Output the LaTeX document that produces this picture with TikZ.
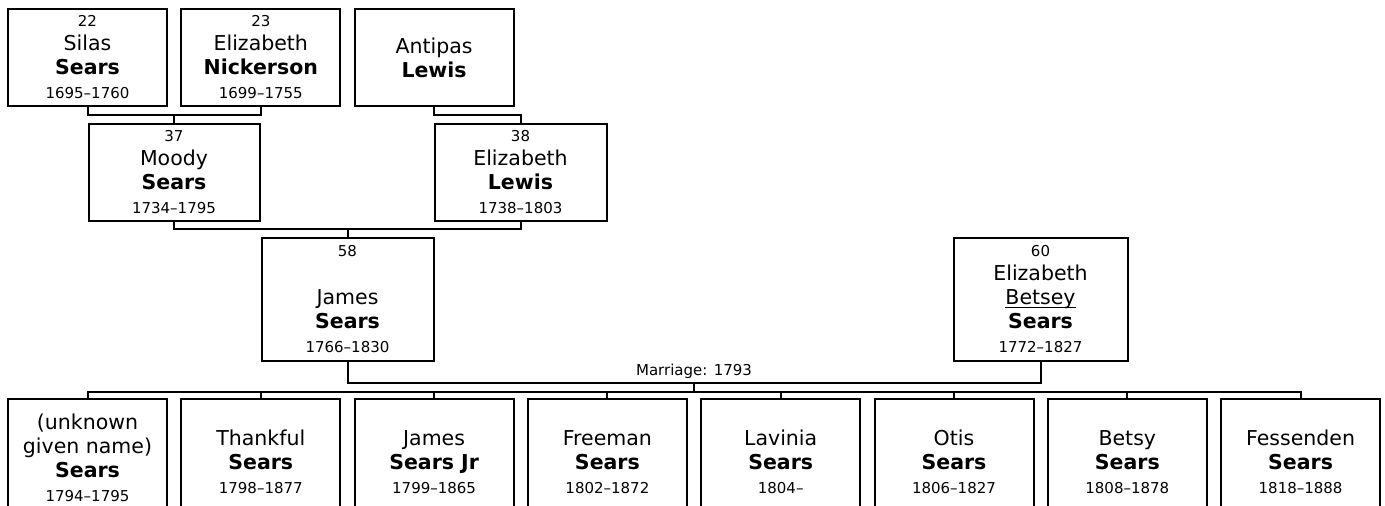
\documentclass[tikz,border=0pt]{standalone}
\usepackage{fontspec}
\setmainfont{DejaVu Sans}
\usetikzlibrary{positioning}
\newcommand{\sm}[1]{{\fontsize{15}{18}\selectfont #1}}
\newcommand{\uln}[1]{\setbox0\hbox{#1}\rlap{\rule[-3.5pt]{\wd0}{1.5pt}}\box0}

\begin{document}
\begin{tikzpicture}[
  x=1pt, y=-1pt,
  font=\fontsize{20.5}{24}\selectfont,
  node distance=12.3pt,
  person/.style={
    draw, line width=2pt, align=center, inner sep=0pt,
    minimum width=159pt, minimum height=97pt
  },
  couple/.style={person, minimum height=123pt},
  kid/.style={person, minimum height=118pt},
  link/.style={line width=2pt},
  tag/.style={font=\fontsize{15}{18}\selectfont, inner sep=3pt}
]
\useasboundingbox (0,0) rectangle (1385,506);

% Grandparents
\node[person] (silas) at (87.5,57.5)
  {\sm{22}\\Silas\\\textbf{Sears}\\\sm{1695--1760}};
\node[person, right=of silas] (nick)
  {\sm{23}\\Elizabeth\\\textbf{Nickerson}\\\sm{1699--1755}};
\node[person, right=of nick] (antipas)
  {Antipas\\\textbf{Lewis}};

% Parents
\node[person, minimum width=171pt] (moody) at (174,172.5)
  {\sm{37}\\Moody\\\textbf{Sears}\\\sm{1734--1795}};
\node[person, minimum width=172pt] (lewis) at (520.5,172.5)
  {\sm{38}\\Elizabeth\\\textbf{Lewis}\\\sm{1738--1803}};

% Couple
\node[couple, minimum width=172pt] (james) at (347.5,299.5)
  {\sm{58}\\\mbox{}\\James\\\textbf{Sears}\\\sm{1766--1830}};
\node[couple, minimum width=174pt] (betsey) at (1040.5,299.5)
  {\sm{60}\\Elizabeth\\\uln{Betsey}\\\textbf{Sears}\\\sm{1772--1827}};

% Children
\node[kid] (c1) at (87.5,458)
  {(unknown\\given name)\\\textbf{Sears}\\\sm{1794--1795}};
\node[kid, right=of c1] (c2)
  {\mbox{}\\Thankful\\\textbf{Sears}\\\sm{1798--1877}};
\node[kid, right=of c2] (c3)
  {\mbox{}\\James\\\textbf{Sears Jr}\\\sm{1799--1865}};
\node[kid, right=of c3] (c4)
  {\mbox{}\\Freeman\\\textbf{Sears}\\\sm{1802--1872}};
\node[kid, right=of c4] (c5)
  {\mbox{}\\Lavinia\\\textbf{Sears}\\\sm{1804--}};
\node[kid, right=of c5] (c6)
  {\mbox{}\\Otis\\\textbf{Sears}\\\sm{1806--1827}};
\node[kid, right=of c6] (c7)
  {\mbox{}\\Betsy\\\textbf{Sears}\\\sm{1808--1878}};
\node[kid, right=of c7] (c8)
  {\mbox{}\\Fessenden\\\textbf{Sears}\\\sm{1818--1888}};

% Lines of descent
\draw[link] (silas.south) -- ++(0,8) -| (nick.south);
\draw[link] (moody.north) -- ++(0,-8);
\draw[link] (antipas.south) -- ++(0,8) -| (lewis.north);
\draw[link] (moody.south) -- ++(0,7) -| (lewis.south);
\draw[link] (james.north) -- ++(0,-8);

% Marriage and children
\draw[link] (james.south) -- ++(0,21)
  -| node[tag, pos=0.25, above] (wed) {Marriage: 1793}
     coordinate[pos=0.25] (wedpt) (betsey.south);
\draw[link] (c1.north) -- ++(0,-6) -| (c8.north);
\draw[link] (wedpt) -- ++(0,9);
\foreach \k in {2,...,7}
  \draw[link] (c\k.north) -- ++(0,-6);

\end{tikzpicture}
\end{document}
